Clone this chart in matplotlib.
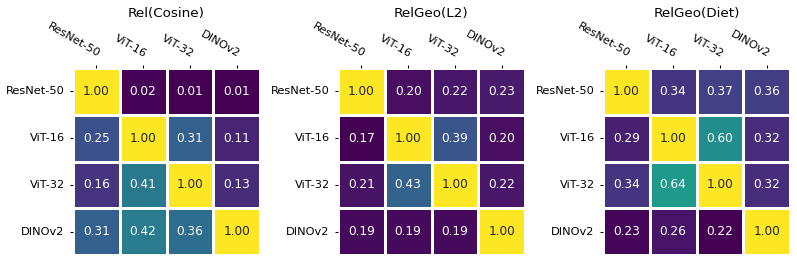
import numpy as np
import matplotlib
matplotlib.use("Agg")
import matplotlib.pyplot as plt
import seaborn as sns

modelos = ["ResNet-50", "ViT-16", "ViT-32", "DINOv2"]
basliklar = ["Rel(Cosine)", "RelGeo(L2)", "RelGeo(Diet)"]

rel_cosine = [[1.00, 0.02, 0.01, 0.01],
              [0.25, 1.00, 0.31, 0.11],
              [0.16, 0.41, 1.00, 0.13],
              [0.31, 0.42, 0.36, 1.00]]
relgeo_l2 = [[1.00, 0.20, 0.22, 0.23],
             [0.17, 1.00, 0.39, 0.20],
             [0.21, 0.43, 1.00, 0.22],
             [0.19, 0.19, 0.19, 1.00]]
relgeo_diet = [[1.00, 0.34, 0.37, 0.36],
               [0.29, 1.00, 0.60, 0.32],
               [0.34, 0.64, 1.00, 0.32],
               [0.23, 0.26, 0.22, 1.00]]

W, H = 797, 263
fig = plt.figure(figsize=(W / 100, H / 100), dpi=100)

sol_kenar = [73, 338, 603]
for sol, baslik, veri in zip(sol_kenar, basliklar, [rel_cosine, relgeo_l2, relgeo_diet]):
    ax = fig.add_axes([sol / W, 8 / H, 187 / W, 187 / H])
    sns.heatmap(np.array(veri), ax=ax, cmap="viridis", annot=True, fmt=".2f",
                annot_kws={"fontsize": 8.7}, linewidths=2, linecolor="white",
                cbar=False, square=True, xticklabels=modelos, yticklabels=modelos)
    ax.xaxis.tick_top()
    plt.setp(ax.get_xticklabels(), rotation=-30, ha="right", rotation_mode="anchor",
             fontsize=8.2)
    plt.setp(ax.get_yticklabels(), rotation=0, fontsize=8.2)
    ax.tick_params(axis="both", length=2.5, width=0.8, pad=3.5)
    fig.text((sol + 93.5) / W, 1 - 13 / H, baslik, ha="center", va="center", fontsize=9.7)

fig.savefig("out.png", dpi=100)
